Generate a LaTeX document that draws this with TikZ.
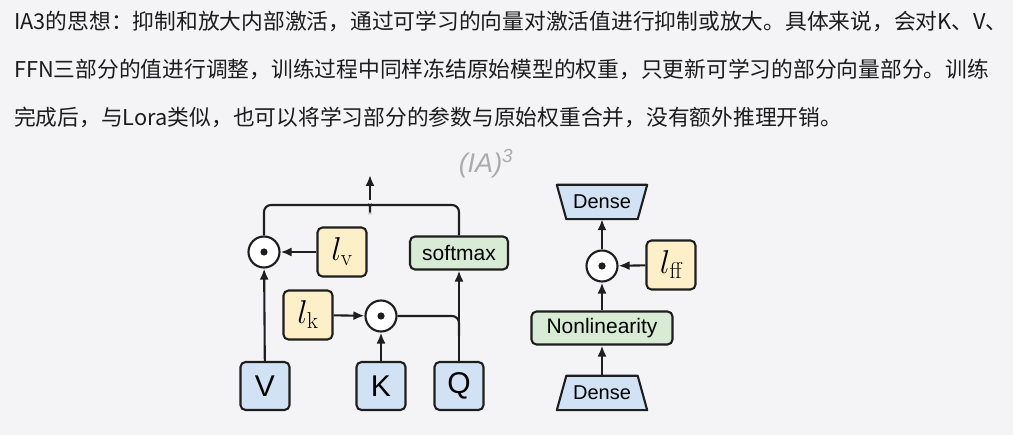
\RequirePackage{fix-cm}
\documentclass[tikz,border=0pt]{standalone}
\usepackage{fontspec}
\newfontfamily\cjk{Noto Sans CJK SC}
\newfontfamily\sans{Liberation Sans}
\usetikzlibrary{arrows.meta,backgrounds}
\definecolor{bgc}{HTML}{F4F4F6}
\definecolor{txt}{HTML}{1C1C1C}
\definecolor{ttl}{HTML}{ABABAB}
\definecolor{bluef}{HTML}{D0E2F3}
\definecolor{greenf}{HTML}{D8EBD4}
\definecolor{yellowf}{HTML}{FDF0C8}
\definecolor{edge}{HTML}{1E1E1E}
\newcommand{\lsub}[1]{$l_{\hbox{\fontsize{23}{23}\selectfont #1}}$}
\tikzset{
  body/.style={anchor=base west,inner sep=0pt,text=txt,font=\cjk\fontsize{21.75}{21.75}\selectfont},
  boxbase/.style={draw=edge,line width=2.1pt,rounded corners=5pt,inner sep=0pt},
  inbox/.style={boxbase,fill=bluef,minimum width=49pt,minimum height=48pt,font=\sans\fontsize{30}{30}\selectfont},
  opbox/.style={boxbase,fill=greenf,minimum height=33pt,font=\sans\fontsize{21}{21}\selectfont},
  lbox/.style={boxbase,fill=yellowf,minimum width=49pt,minimum height=49pt,font=\fontsize{33}{33}\selectfont},
  odot/.style={circle,draw=edge,line width=2.1pt,fill=white,minimum size=31pt,inner sep=0pt},
  trapbox/.style={inner sep=0pt,minimum width=90pt,minimum height=34pt,font=\sans\fontsize{20}{20}\selectfont},
  trapdraw/.style={draw=edge,line width=2.1pt,fill=bluef,line join=round},
  conn/.style={draw=edge,line width=2.1pt},
  arr/.style={conn,-{Latex[length=11pt,width=9pt]}},
}
\begin{document}
\begin{tikzpicture}[x=1pt,y=-1pt]
\begin{scope}[on background layer]
\fill[bgc] (0,0) rectangle (1013,435);
\end{scope}
\useasboundingbox (0,0) rectangle (1013,435);

% body text
\node[body] (t1) at (14,30) {IA3的思想：抑制和放大内部激活，通过可学习的向量对激活值进行抑制或放大。具体来说，会对K、V、};
\node[body] (t2) at (14,78) {FFN三部分的值进行调整，训练过程中同样冻结原始模型的权重，只更新可学习的部分向量部分。训练};
\node[body] (t3) at (14,126) {完成后，与Lora类似，也可以将学习部分的参数与原始权重合并，没有额外推理开销。};

% title
\node[text=ttl,font=\sans\itshape\fontsize{27}{27}\selectfont,inner sep=0pt] (title) at (486,164) {(IA)\textsuperscript{3}};

% left attention part
\node[inbox] (V) at (265,386) {V};
\node[inbox] (K) at (381,386) {K};
\node[inbox] (Q) at (459,386) {Q};
\node[odot] (ov) at (264,252) {};
\fill[edge] (ov) circle (3.6pt);
\node[odot] (ok) at (381,316) {};
\fill[edge] (ok) circle (3.6pt);
\node[lbox] (lv) at (342,252) {\lsub{v}};
\node[lbox] (lk) at (308,315) {\lsub{k}};
\node[opbox,minimum width=98pt] (sm) at (459,253) {softmax};
\coordinate (out) at (370,175);
\coordinate (cusp) at (370,200);

\draw[arr] (V) -- (ov);
\draw[arr] (lv) -- (ov);
\draw[arr] (K) -- (ok);
\draw[arr] (lk) -- (ok);
\draw[arr] (Q) -- (sm);
\draw[conn,rounded corners=7pt] (ok.east) -| ([yshift=-20pt]Q.north |- ok.east);
\draw[conn,rounded corners=7pt] (ov.north) |- (363,205) to[out=0,in=-90] (cusp) to[out=-90,in=180] (377,205) -| (sm.north);
\draw[arr] (cusp) -- (out);

% right FFN part
\node[trapbox] (dtop) at (602,202) {Dense};
\node[trapbox] (dbot) at (602,393) {Dense};
\begin{scope}[on background layer]
\draw[trapdraw] (dtop.north west) -- (dtop.north east) -- ([xshift=-9.5pt]dtop.south east) -- ([xshift=9.5pt]dtop.south west) -- cycle;
\draw[trapdraw] ([xshift=9.5pt]dbot.north west) -- ([xshift=-9.5pt]dbot.north east) -- (dbot.south east) -- (dbot.south west) -- cycle;
\end{scope}
\node[opbox,minimum width=141pt] (nl) at (602,328) {Nonlinearity};
\node[odot] (of) at (602,266) {};
\fill[edge] (of) circle (3.6pt);
\node[lbox] (lf) at (671,265) {\lsub{ff}};
\draw[arr] (dbot) -- (nl);
\draw[arr] (nl) -- (of);
\draw[arr] (of) -- (dtop);
\draw[arr] (lf) -- (of);
\end{tikzpicture}
\end{document}
